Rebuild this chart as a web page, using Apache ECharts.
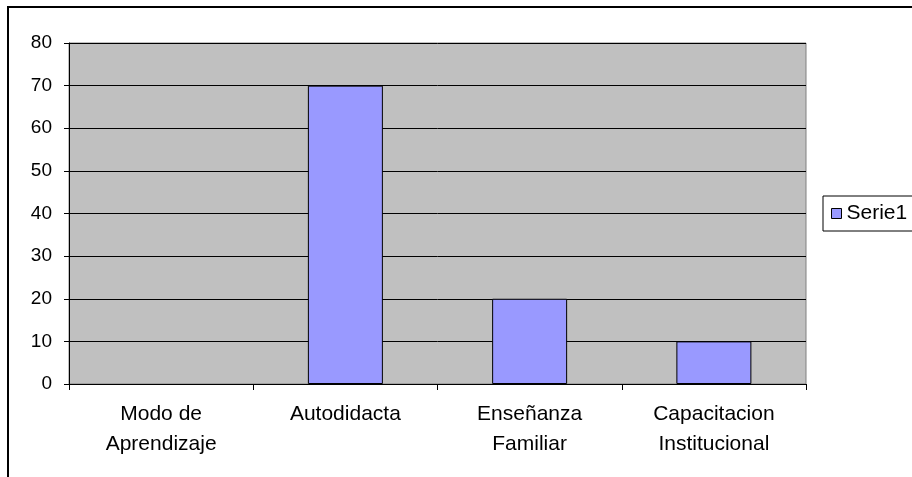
<!DOCTYPE html>
<html><head><meta charset="utf-8">
<script src="https://cdn.jsdelivr.net/npm/echarts@6/dist/echarts.min.js"></script>
<style>html,body{margin:0;padding:0;background:#fff}#c{width:912px;height:477px}</style>
</head><body><div id="c"></div>
<script>
var categories = ["Modo de\nAprendizaje", "Autodidacta", "Enseñanza\nFamiliar", "Capacitacion\nInstitucional"];
var serie1 = [null, 70, 20, 10];
var seriesName = "Serie1";
var yMin = 0, yMax = 80, yStep = 10;

var chart = echarts.init(document.getElementById('c'), null, {renderer: 'canvas'});
var font = 'Arial, "Liberation Sans", sans-serif';
chart.setOption({
  animation: false,
  backgroundColor: '#fff',
  graphic: [{
    type: 'rect', z: 100, silent: true,
    shape: {x: 8, y: 7, width: 1000, height: 600},
    style: {fill: 'none', stroke: '#000', lineWidth: 2}
  }],
  grid: {
    left: 69, top: 43, right: 106, bottom: 93,
    show: true, backgroundColor: '#C0C0C0', borderColor: '#808080', borderWidth: 1
  },
  legend: {
    data: [seriesName],
    left: 823, top: 196,
    orient: 'vertical',
    padding: [7, 30, 7, 8],
    borderColor: '#000', borderWidth: 1,
    itemWidth: 10, itemHeight: 10, itemGap: 0,
    icon: 'rect',
    textStyle: {color: '#000', fontSize: 21, fontFamily: font},
    itemStyle: {borderColor: '#000', borderWidth: 1}
  },
  xAxis: {
    type: 'category',
    data: categories,
    boundaryGap: true,
    axisLine: {lineStyle: {color: '#000', width: 1}},
    axisTick: {show: true, alignWithLabel: false, length: 6, lineStyle: {color: '#000'}},
    axisLabel: {color: '#000', fontSize: 21, fontFamily: font, lineHeight: 30, margin: 15, interval: 0},
    splitLine: {show: false}
  },
  yAxis: {
    type: 'value',
    min: yMin, max: yMax, interval: yStep,
    axisLine: {show: true, lineStyle: {color: '#000', width: 1}},
    axisTick: {show: true, length: 5, lineStyle: {color: '#000'}},
    axisLabel: {color: '#000', fontSize: 19, fontFamily: font, margin: 17},
    splitLine: {show: true, lineStyle: {color: '#000', width: 1}}
  },
  series: [{
    name: seriesName,
    type: 'bar',
    data: serie1,
    barWidth: 75,
    itemStyle: {color: '#9999FF', borderColor: '#000', borderWidth: 1}
  }]
});
</script>
</body></html>
